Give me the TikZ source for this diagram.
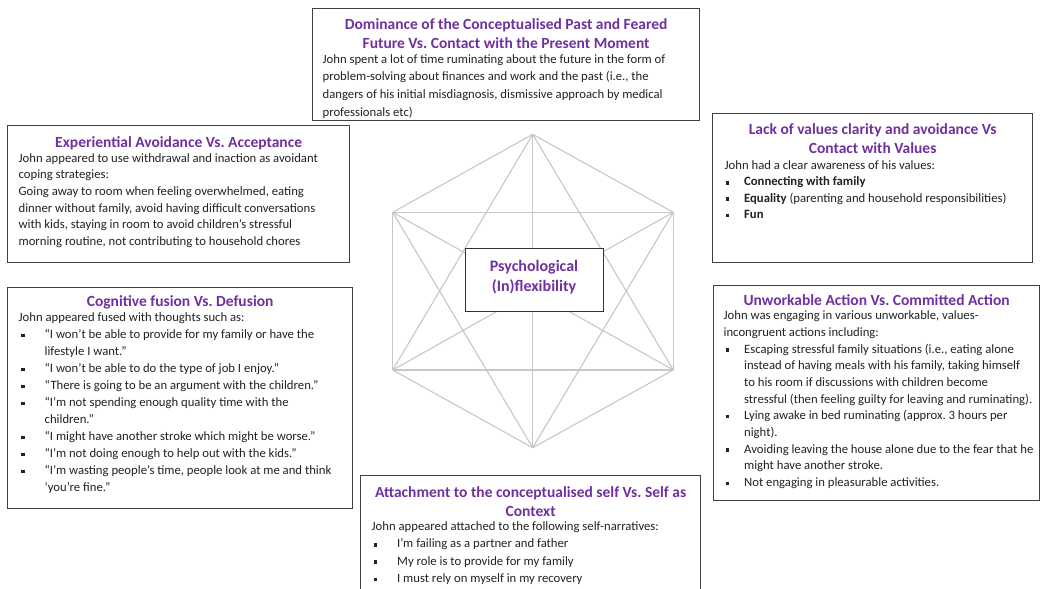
\documentclass[tikz,border=0pt]{standalone}
\usepackage{fontspec}
\setmainfont{Carlito}
\frenchspacing
\definecolor{ttl}{HTML}{7030A0}
\definecolor{txt}{HTML}{222222}
\tikzset{
  panel/.style={draw=black!75, line width=1.3pt, fill=white, inner sep=0pt, anchor=north west, text=txt},
  hexline/.style={draw=black!22, line width=1.1pt},
  core/.style={draw=black!80, line width=1pt, fill=white, minimum width=138pt, minimum height=63pt, inner sep=0pt, align=center, text=ttl, font=\fontsize{16}{20}\selectfont\bfseries},
}
\newcommand\ttl[2]{{\centering\fontsize{15.5}{19}\selectfont\bfseries\color{ttl}\rule{0pt}{#1}#2\par}}
\newcommand\bdy[3]{{\fontsize{12.7}{#2}\selectfont\leftskip=#1\rightskip=-12pt plus 1fil\hyphenpenalty=10000\exhyphenpenalty=10000 #3\par}}
\newcommand\bi[2]{\par\noindent\hangindent=#1\hangafter=1\makebox[#1][l]{\hspace{#2}\raisebox{1.4pt}{\rule{3.6pt}{3.6pt}}}\ignorespaces}
\begin{document}
\begin{tikzpicture}[x=1pt,y=-1pt]
\useasboundingbox (0,0) rectangle (1045,589);
\clip (0,0) rectangle (1045,589);
\fill[white] (0,0) rectangle (1045,589);
% hexagon
\coordinate (T) at (532.7,134.3);
\coordinate (UL) at (392.7,212.3);
\coordinate (UR) at (673.3,212.3);
\coordinate (LL) at (392.7,370);
\coordinate (LR) at (673.3,370);
\coordinate (B) at (532.7,447.7);
\foreach \a/\b in {T/UR,UR/LR,LR/B,B/LL,LL/UL,UL/T,T/B,UL/LR,UR/LL,T/LR,T/LL,B/UL,B/UR,UL/UR,LL/LR}
  \draw[hexline] (\a) -- (\b);
\node[core] (psy) at (534,279.5) {\raisebox{2.2pt}[\height][\depth]{\parbox{130pt}{\centering Psychological\\(In)flexibility}}};
% top
\node[panel, minimum width=387pt, minimum height=112pt] (top) at (312,8) {\parbox[c][112pt][t]{387pt}{%
\ttl{20.5pt}{Dominance of the Conceptualised Past and Feared\\Future Vs. Contact with the Present Moment}%
\vspace{-2.7pt}%
\bdy{10pt}{17.7pt}{John spent a lot of time ruminating about the future in the form of\\
problem-solving about finances and work and the past (i.e., the\\
dangers of his initial misdiagnosis, dismissive approach by medical\\
professionals etc)}}};
% top left
\node[panel, minimum width=342pt, minimum height=137pt] (tl) at (7,125) {\parbox[c][137pt][t]{342pt}{%
\ttl{22pt}{Experiential Avoidance Vs. Acceptance}%
\vspace{-2.2pt}%
\bdy{11pt}{16.7pt}{John appeared to use withdrawal and inaction as avoidant\\
coping strategies:\\
Going away to room when feeling overwhelmed, eating\\
dinner without family, avoid having difficult conversations\\
with kids, staying in room to avoid children’s stressful\\
morning routine, not contributing to household chores}}};
% top right
\node[panel, minimum width=320pt, minimum height=149pt] (tr) at (712,113) {\parbox[c][149pt][t]{320pt}{%
\ttl{21pt}{Lack of values clarity and avoidance Vs\\Contact with Values}%
\vspace{-0.3pt}%
\bdy{12pt}{16.3pt}{John had a clear awareness of his values:
\bi{19.5pt}{1pt}\textbf{Connecting with family}
\bi{19.5pt}{1pt}\textbf{Equality} (parenting and household responsibilities)
\bi{19.5pt}{1pt}\textbf{Fun}}}};
% bottom left
\node[panel, minimum width=345pt, minimum height=221pt] (bl) at (7,287) {\parbox[c][221pt][t]{345pt}{%
\ttl{19pt}{Cognitive fusion Vs. Defusion}%
\vspace{-2pt}%
\bdy{11pt}{17pt}{John appeared fused with thoughts such as:
\bi{26pt}{2.5pt}“I won’t be able to provide for my family or have the\\lifestyle I want.”
\bi{26pt}{2.5pt}“I won’t be able to do the type of job I enjoy.”
\bi{26pt}{2.5pt}“There is going to be an argument with the children.”
\bi{26pt}{2.5pt}“I’m not spending enough quality time with the\\children.”
\bi{26pt}{2.5pt}“I might have another stroke which might be worse.”
\bi{26pt}{2.5pt}“I’m not doing enough to help out with the kids.”
\bi{26pt}{2.5pt}“I’m wasting people’s time, people look at me and think\\‘you’re fine.”}}};
% bottom right
\node[panel, minimum width=326pt, minimum height=215pt] (br) at (713,285) {\parbox[c][215pt][t]{326pt}{%
\ttl{20pt}{Unworkable Action Vs. Committed Action}%
\vspace{-2.7pt}%
\bdy{10pt}{16.7pt}{John was engaging in various unworkable, values-\\incongruent actions including:
\bi{20.5pt}{2pt}Escaping stressful family situations (i.e., eating alone\\instead of having meals with his family, taking himself\\to his room if discussions with children become\\stressful (then feeling guilty for leaving and ruminating).
\bi{20.5pt}{2pt}Lying awake in bed ruminating (approx. 3 hours per\\night).
\bi{20.5pt}{2pt}Avoiding leaving the house alone due to the fear that he\\might have another stroke.
\bi{20.5pt}{2pt}Not engaging in pleasurable activities.}}};
% bottom
\node[panel, minimum width=340pt, minimum height=130pt] (bot) at (360,475) {\parbox[c][130pt][t]{340pt}{%
\ttl{22pt}{Attachment to the conceptualised self Vs. Self as\\Context}%
\vspace{-3.3pt}%
\bdy{11pt}{17.3pt}{John appeared attached to the following self-narratives:
\bi{25.5pt}{2pt}I’m failing as a partner and father
\bi{25.5pt}{2pt}My role is to provide for my family
\bi{25.5pt}{2pt}I must rely on myself in my recovery}}};
\end{tikzpicture}
\end{document}
